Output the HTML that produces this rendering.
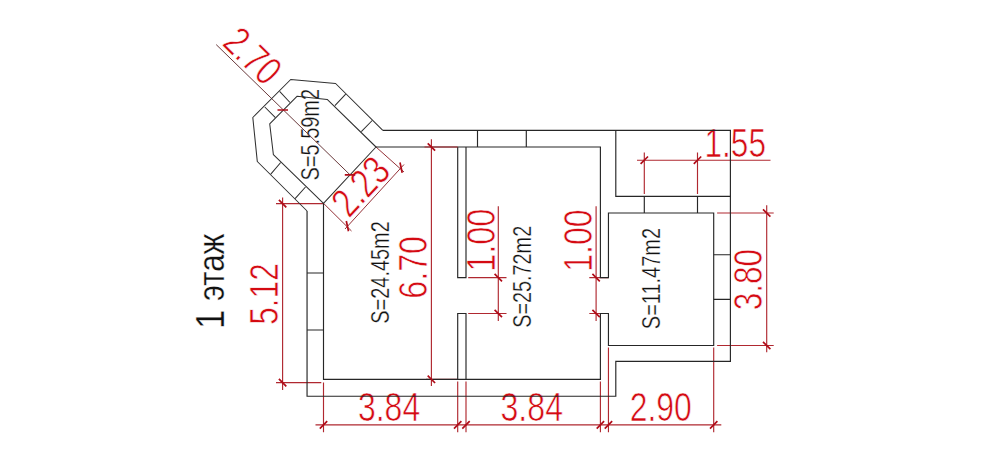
<!DOCTYPE html>
<html><head><meta charset="utf-8">
<title>1 этаж</title>
<style>
html,body{margin:0;padding:0;background:#fff;}
body{width:1000px;height:467px;overflow:hidden;}
svg{display:block;}
.k{stroke:#262626;stroke-width:1.15;fill:none;}
.kd{stroke:#303030;stroke-width:1.05;stroke-linejoin:round;}
.r{stroke:#b02830;stroke-width:1.15;fill:none;}
.rd{stroke:#6a3a3c;stroke-width:1;}
.rd2{stroke:#943036;stroke-width:1;}
.t{stroke:#b00c18;stroke-width:1.7;fill:none;}
.rt{fill:#d40a12;stroke:#fff;stroke-width:0.6;vector-effect:non-scaling-stroke;font-family:"Liberation Sans",sans-serif;font-size:40.59px;}
.bt{fill:#111;stroke:#fff;stroke-width:0.3;vector-effect:non-scaling-stroke;font-family:"Liberation Sans",sans-serif;}
</style></head><body>
<svg width="1000" height="467" viewBox="0 0 1000 467">
<rect width="1000" height="467" fill="#fff"/>
<text class="bt" font-size="26.01" transform="translate(389.10,323.66) rotate(-90) scale(0.7661,1)">S=24.45m2</text>
<text class="bt" font-size="26.01" transform="translate(531.10,327.85) rotate(-90) scale(0.7630,1)">S=25.72m2</text>
<text class="bt" font-size="26.01" transform="translate(660.30,329.16) rotate(-90) scale(0.7677,1)">S=11.47m2</text>
<text class="bt" font-size="26.01" transform="translate(319.20,180.46) rotate(-90) scale(0.7677,1)">S=5.59m2</text>
<text class="bt" font-size="40.59" transform="translate(223.80,328.67) rotate(-90) scale(0.8411,1)">1</text>
<text class="bt" font-size="37.60" transform="translate(223.80,300.94) rotate(-90) scale(0.8295,1)">этаж</text>
<g class="r">
<path class="rd" d="M216.2 44.6L350 174.8"/>
<path class="rd2" d="M376 147.0L404 172 M323.5 203.3L351.5 231 M345 229L404 164.5"/>
<path d="M282.6 197.5V390 M276 203.6H323.5 M276 382.6H321.3"/>
<path d="M431.4 139.3V386 M426 379.3H457.7"/>
<path d="M498.3 206.3V321 M468.2 277.6H506.5 M468.2 313.5H506.5"/>
<path d="M596.1 206.3V321 M589.3 277.6H608.45 M589.3 313.5H608.45"/>
<path d="M637 160.2H770.5 M644.3 152.5V194 M697.5 152.5V194"/>
<path d="M766.7 205.3V352.3 M717.1 213.0H773.7 M717.1 345.5H773.7"/>
<path d="M315.5 424.9H721.3 M323.5 382.5V432.3 M457.7 381.5V432.3 M466.0 381.5V432.3 M600.4 381.5V432.3 M608.45 347.5V432.3 M713.7 347.5V432.3"/>
</g>
<text class="rt" transform="translate(357.93,421.30) scale(0.7881,1)">3.84</text>
<text class="rt" transform="translate(500.53,421.30) scale(0.7906,1)">3.84</text>
<text class="rt" transform="translate(629.74,421.30) scale(0.7866,1)">2.90</text>
<text class="rt" transform="translate(704.51,156.90) scale(0.7780,1)">1.55</text>
<text class="rt" transform="translate(278.30,324.71) rotate(-90) scale(0.7780,1)">5.12</text>
<text class="rt" transform="translate(426.50,298.69) rotate(-90) scale(0.7936,1)">6.70</text>
<text class="rt" transform="translate(494.60,271.79) rotate(-90) scale(0.8002,1)">1.00</text>
<text class="rt" transform="translate(591.70,271.73) rotate(-90) scale(0.7876,1)">1.00</text>
<text class="rt" transform="translate(762.30,310.25) rotate(-90) scale(0.7775,1)">3.80</text>
<text class="rt" transform="translate(221.10,44.40) rotate(44.3) scale(0.7750,1)">2.70</text>
<text class="rt" transform="translate(348.90,219.00) rotate(-46.8) scale(0.8053,1)">2.23</text>
<g class="k">
<path d="M382.8 130.4 L730.4 130.4 L730.4 361.3 L615.8 361.3 L615.8 396.2 L307.05 396.2 L307.05 211"/>
<path class="kd" d="M307.05 211 L257.3 161.5 L252.8 117.5 L290.7 79.5 L335.6 83.5 L382.8 130.4"/>
<path class="kd" d="M297.2 96.2 L327.2 99.4 L376 147 L323.5 203.3 L273.4 154.7 L269.7 123.8 Z"/>
<path d="M376 147.0 L600.4 147.0 L600.4 277.6 L608.45 277.6 L608.45 213.0 L713.7 213.0 L713.7 345.5 L608.45 345.5 L608.45 313.5 L600.4 313.5 L600.4 379.3 L323.5 379.3 L323.5 203.3"/>
<path d="M457.7 147.0 L457.7 277.6 L466.0 277.6 L466.0 147.0 M457.7 379.3 L457.7 313.5 L466.0 313.5 L466.0 379.3"/>
<path d="M615.8 130.4 L615.8 196.4 L730.4 196.4"/>
<path d="M477.5 130.4V147.0 M526.3 130.4V147.0"/>
<path d="M307.05 273H323.5 M307.05 330H323.5"/>
<path d="M713.7 254.7H730.4 M713.7 299.4H730.4"/>
<path d="M644.3 196.4V213.0 M697.5 196.4V213.0"/>
<path class="kd" d="M264.8 107L275.4 117.7 M279.6 91.3L290 102.5 M345.7 94.2L334.9 105.6 M372.2 120.5L361.3 131.7 M280.7 162.5L270.8 174.2 M305.5 187L295.1 198.7"/>
</g>
<g class="r"><path d="M424.5 147.0H457.7"/></g>
<g class="t">
<path d="M277.5 110H288 M344.8 174.8H355.2 M400 162.5L402.2 172.8 M346.3 221L348.5 231.3 M278.9 199.9 l7.4 7.4 M278.9 378.9 l7.4 7.4 M427.7 143.3 l7.4 7.4 M427.7 375.6 l7.4 7.4 M494.6 273.9 l7.4 7.4 M494.6 309.8 l7.4 7.4 M592.4 273.9 l7.4 7.4 M592.4 309.8 l7.4 7.4 M640.6 163.9 l7.4 -7.4 M693.8 163.9 l7.4 -7.4 M763 209.3 l7.4 7.4 M763 341.8 l7.4 7.4 M319.8 428.6 l7.4 -7.4 M454 428.6 l7.4 -7.4 M462.3 428.6 l7.4 -7.4 M596.7 428.6 l7.4 -7.4 M604.75 428.6 l7.4 -7.4 M710 428.6 l7.4 -7.4"/>
</g>
</svg>
</body></html>
